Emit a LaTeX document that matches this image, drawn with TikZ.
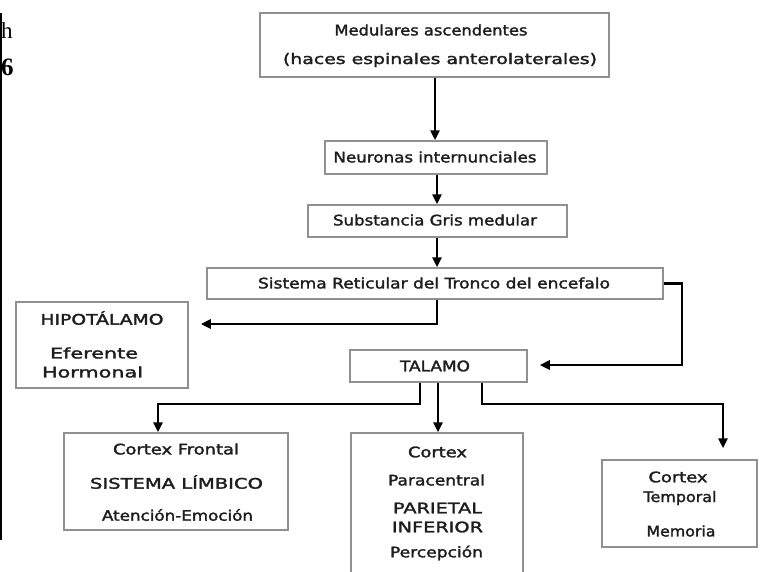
\documentclass[tikz,border=0pt]{standalone}
\usepackage{fontspec}
\setmainfont{DejaVu Sans}
\newfontfamily\comicish[FakeBold=1.8]{DejaVu Sans}
\newfontfamily\serifart{Liberation Serif}
\usetikzlibrary{arrows.meta}
\definecolor{boxgray}{HTML}{909090}
\definecolor{txtgray}{HTML}{1E1E1E}
\newcommand\fitw[2]{\resizebox{#1pt}{\height}{#2}}
\tikzset{
  box/.style={draw=boxgray, line width=1.5pt, fill=white, inner sep=0pt, anchor=center},
  txt/.style={text=txtgray, font=\comicish\fontsize{14.5}{16}\selectfont, inner sep=0pt, anchor=center},
  arr/.style={draw=black, line width=2.8pt, -{Triangle[length=10pt,width=9pt]}},
}
\begin{document}
\begin{tikzpicture}[x=1pt,y=-1pt]
\useasboundingbox (0,0) rectangle (763,571);
\begin{scope}
\clip (0,0) rectangle (763,571);
% left artifact
\draw[line width=2pt] (1,13) -- (1,540);
\node[inner sep=0pt, anchor=west, font=\serifart\fontsize{23}{23}\selectfont] (arth) at (1,31) {h};
\node[inner sep=0pt, anchor=west, font=\serifart\bfseries\fontsize{25}{25}\selectfont] (art6) at (1,67) {6};

% boxes
\node[box, minimum width=349pt, minimum height=64pt] (top) at (434.5,45) {};
\node[box, minimum width=222pt, minimum height=33pt] (neur) at (436,157.5) {};
\node[box, minimum width=259pt, minimum height=32pt] (subs) at (437.5,221) {};
\node[box, minimum width=456pt, minimum height=31pt] (sist) at (435,283.5) {};
\node[box, minimum width=172pt, minimum height=86pt] (hipo) at (102,345) {};
\node[box, minimum width=177pt, minimum height=32pt] (tal) at (438.5,366) {};
\node[box, minimum width=224pt, minimum height=97pt] (front) at (176,481.5) {};
\node[box, minimum width=172pt, minimum height=170pt] (para) at (437,518) {};
\node[box, minimum width=155pt, minimum height=87pt] (temp) at (679.5,503.5) {};

% texts
\node[txt] (t1) at (431,30) {\fitw{193}{Medulares ascendentes}};
\node[txt] (t2) at (440,60) {\fitw{314}{(haces espinales anterolaterales)}};
\node[txt] (t3) at (435,157) {\fitw{203}{Neuronas internunciales}};
\node[txt] (t4) at (435,220) {\fitw{204}{Substancia Gris medular}};
\node[txt] (t5) at (434,283) {\fitw{352}{Sistema Reticular del Tronco del encefalo}};
\node[txt] (h1) at (102,318) {\fitw{123}{HIPOTÁLAMO}};
\node[txt] (h2) at (94,353) {\fitw{88}{Eferente}};
\node[txt] (h3) at (92.5,372) {\fitw{101}{Hormonal}};
\node[txt] (ta) at (435,366) {\fitw{70}{TALAMO}};
\node[txt] (f1) at (176,449) {\fitw{126}{Cortex Frontal}};
\node[txt] (f2) at (176.5,482) {\fitw{173}{SISTEMA LÍMBICO}};
\node[txt] (f3) at (177.5,515) {\fitw{151}{Atención-Emoción}};
\node[txt] (p1) at (437.5,452) {\fitw{59}{Cortex}};
\node[txt] (p2) at (436.5,480) {\fitw{97}{Paracentral}};
\node[txt] (p3) at (437.5,508) {\fitw{89}{PARIETAL}};
\node[txt] (p4) at (437.5,527) {\fitw{91}{INFERIOR}};
\node[txt] (p5) at (436.5,553) {\fitw{93}{Percepción}};
\node[txt] (m1) at (678,477) {\fitw{59}{Cortex}};
\node[txt] (m2) at (680,498) {\fitw{73}{Temporal}};
\node[txt] (m3) at (681,531) {\fitw{69}{Memoria}};

% helper coordinates
\coordinate (cA) at (435,0);
\coordinate (cB) at (437,0);
\coordinate (hy) at (0,324);
\coordinate (rx) at (682,0);
\coordinate (ty) at (0,365);
\coordinate (lowy) at (0,404);
\coordinate (xL) at (420,0);
\coordinate (xM) at (438,0);
\coordinate (xR) at (482,0);
\coordinate (xF) at (158,0);
\coordinate (xT) at (723,0);

% connectors
\draw[arr] (cA |- top.south) -- (cA |- neur.north);
\draw[arr] (cB |- neur.south) -- (cB |- subs.north);
\draw[arr] (cB |- subs.south) -- (cB |- sist.north);
\draw[arr, shorten >=12pt] (cB |- sist.south) |- (hipo.east |- hy);
\draw[arr, shorten >=12pt] (sist.east) -| (rx |- ty) -- (tal.east |- ty);
\draw[arr] (xL |- tal.south) |- (xF |- lowy) -- (xF |- front.north);
\draw[arr] (xM |- tal.south) -- (xM |- para.north);
\draw[arr, shorten >=11pt] (xR |- tal.south) |- (xT |- lowy) -- (xT |- temp.north);
\end{scope}
\end{tikzpicture}
\end{document}
